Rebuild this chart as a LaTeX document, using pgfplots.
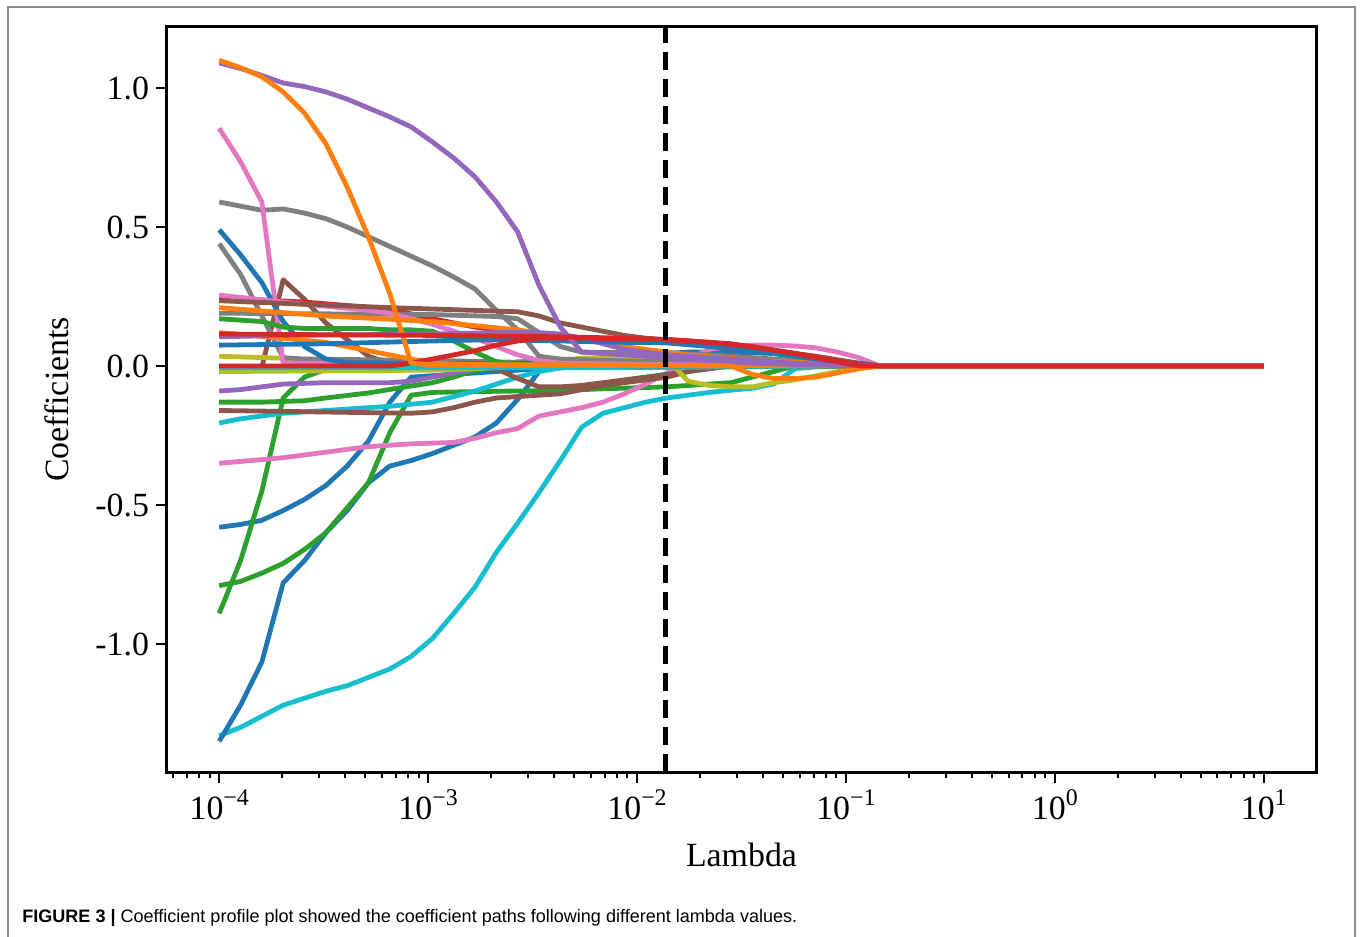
\documentclass[border=0pt]{standalone}
\usepackage{fontspec}
\setmainfont{Liberation Serif}
\newfontfamily\capfont{Liberation Sans}
\usepackage{pgfplots}
\pgfplotsset{compat=1.18}
\definecolor{tb}{HTML}{1F77B4}
\definecolor{to}{HTML}{FF7F0E}
\definecolor{tg}{HTML}{2CA02C}
\definecolor{tr}{HTML}{D62728}
\definecolor{tp}{HTML}{9467BD}
\definecolor{tbr}{HTML}{8C564B}
\definecolor{tpk}{HTML}{E377C2}
\definecolor{tgy}{HTML}{7F7F7F}
\definecolor{tol}{HTML}{BCBD22}
\definecolor{tc}{HTML}{17BECF}
\newcommand{\sx}[1]{10\raisebox{7bp}{\fontsize{12}{12}\selectfont #1}}
\begin{document}
\begin{tikzpicture}
\path[use as bounding box] (-83.5bp,-82.5bp) rectangle (596.5bp,386bp);
\draw[color=black!45, line width=0.8bp] (-79.5bp,-110bp) -- (-79.5bp,382.5bp) -- (594bp,382.5bp) -- (594bp,-110bp);
\node[anchor=base west, inner sep=0pt, font=\capfont\fontsize{9.05}{11}\selectfont] at (-72.5bp,-75bp) {\textbf{FIGURE 3 |} Coefficient profile plot showed the coefficient paths following different lambda values.};
\begin{axis}[
  at={(0,0)}, anchor=south west,
  scale only axis, width=574.5bp, height=372.5bp,
  xmode=log, log basis x=10,
  xmin=5.6234e-5, xmax=17.783,
  ymin=-1.4604, ymax=1.2194,
  axis line style={line width=1.5bp},
  tick align=outside,
  xtick pos=bottom, ytick pos=left,
  major tick length=5.5bp, minor tick length=3bp,
  every tick/.style={black, line width=1bp},
  xtick={1e-4,1e-3,1e-2,1e-1,1,10},
  xticklabels={\sx{−4},\sx{−3},\sx{−2},\sx{−1},\sx{0},\sx{1}},
  minor xtick={6e-5,7e-5,8e-5,9e-5,2e-4,3e-4,4e-4,5e-4,6e-4,7e-4,8e-4,9e-4,2e-3,3e-3,4e-3,5e-3,6e-3,7e-3,8e-3,9e-3,2e-2,3e-2,4e-2,5e-2,6e-2,7e-2,8e-2,9e-2,0.2,0.3,0.4,0.5,0.6,0.7,0.8,0.9,2,3,4,5,6,7,8,9},
  ytick={-1,-0.5,0,0.5,1},
  yticklabels={-1.0,-0.5,0.0,0.5,1.0},
  tick label style={font=\fontsize{17}{17}\selectfont},
  xlabel={Lambda}, ylabel={Coefficients},
  every axis x label/.style={at={(axis description cs:0.5,-0.1114)}, anchor=center, font=\fontsize{17}{17}\selectfont},
  every axis y label/.style={at={(axis description cs:-0.0957,0.5)}, rotate=90, anchor=center, font=\fontsize{17}{17}\selectfont},
  every axis plot/.append style={line width=2.4bp, line join=round, line cap=butt},
  clip=true,
]
% DD cyan
\addplot[tc] coordinates {(1e-4,-1.33) (1.2649e-4,-1.30) (1.6e-4,-1.26) (2.0238e-4,-1.22) (2.56e-4,-1.195) (3.2381e-4,-1.17) (4.096e-4,-1.15) (5.181e-4,-1.12) (6.5536e-4,-1.09) (8.2897e-4,-1.045) (1.0486e-3,-0.98) (1.3264e-3,-0.89) (1.6777e-3,-0.795) (2.1222e-3,-0.67) (2.6844e-3,-0.565) (3.3955e-3,-0.455) (4.295e-3,-0.34) (5.4329e-3,-0.22) (6.8719e-3,-0.17) (8.6925e-3,-0.15) (1.0995e-2,-0.13) (1.3907e-2,-0.115) (1.7592e-2,-0.105) (2.2251e-2,-0.095) (2.8147e-2,-0.087) (3.5603e-2,-0.08) (4.5036e-2,-0.065) (5.6964e-2,-0.01) (7.2058e-2,-0.003) (1.4584e-1,0) (10,0)};
% CC blue
\addplot[tb] coordinates {(1e-4,-1.35) (1.2649e-4,-1.22) (1.6e-4,-1.065) (2.0238e-4,-0.78) (2.56e-4,-0.70) (3.2381e-4,-0.60) (4.096e-4,-0.52) (5.181e-4,-0.42) (6.5536e-4,-0.36) (8.2897e-4,-0.34) (1.0486e-3,-0.315) (1.3264e-3,-0.285) (1.6777e-3,-0.255) (2.1222e-3,-0.205) (2.6844e-3,-0.12) (3.3955e-3,-0.02) (4.295e-3,0.01) (5.4329e-3,0.015) (6.8719e-3,0.02) (8.6925e-3,0.025) (1.0995e-2,0.035) (1.3907e-2,0.045) (1.7592e-2,0.05) (2.8147e-2,0.05) (4.5036e-2,0.045) (5.6964e-2,0.035) (7.2058e-2,0.025) (9.1146e-2,0.015) (1.1529e-1,0.005) (1.4584e-1,0) (10,0)};
% AA blue
\addplot[tb] coordinates {(1e-4,-0.58) (1.2649e-4,-0.57) (1.6e-4,-0.555) (2.0238e-4,-0.52) (2.56e-4,-0.48) (3.2381e-4,-0.43) (4.096e-4,-0.36) (5.181e-4,-0.27) (6.5536e-4,-0.13) (8.2897e-4,-0.04) (1.0486e-3,-0.035) (1.6777e-3,-0.025) (2.6844e-3,-0.015) (4.295e-3,-0.005) (1.0995e-2,0.0) (10,0)};
% Y green
\addplot[tg] coordinates {(1e-4,-0.89) (1.2649e-4,-0.70) (1.6e-4,-0.45) (2.0238e-4,-0.115) (2.56e-4,-0.04) (3.2381e-4,-0.012) (4.096e-4,0.0) (10,0)};
% Z green
\addplot[tg] coordinates {(1e-4,-0.79) (1.2649e-4,-0.775) (1.6e-4,-0.745) (2.0238e-4,-0.71) (2.56e-4,-0.66) (3.2381e-4,-0.60) (4.096e-4,-0.51) (5.181e-4,-0.42) (6.5536e-4,-0.24) (8.2897e-4,-0.105) (1.0486e-3,-0.095) (1.6777e-3,-0.092) (4.295e-3,-0.088) (6.8719e-3,-0.082) (1.3907e-2,-0.075) (2.2251e-2,-0.065) (2.8147e-2,-0.06) (3.5603e-2,-0.04) (4.5036e-2,-0.02) (5.6964e-2,0.0) (10,0)};
% X green
\addplot[tg] coordinates {(1e-4,-0.13) (1.6e-4,-0.13) (2.56e-4,-0.125) (3.2381e-4,-0.115) (5.181e-4,-0.097) (8.2897e-4,-0.072) (1.0486e-3,-0.06) (1.3264e-3,-0.04) (1.6777e-3,-0.015) (2.1222e-3,-0.005) (2.6844e-3,0.0) (10,0)};
% EE cyan
\addplot[tc] coordinates {(1e-4,-0.205) (1.2649e-4,-0.19) (1.6e-4,-0.18) (2.0238e-4,-0.17) (2.56e-4,-0.165) (4.096e-4,-0.155) (6.5536e-4,-0.145) (1.0486e-3,-0.13) (1.6777e-3,-0.09) (2.1222e-3,-0.065) (2.6844e-3,-0.04) (3.3955e-3,-0.02) (4.295e-3,-0.007) (5.4329e-3,0.0) (10,0)};
% FF pink
\addplot[tpk] coordinates {(1e-4,-0.35) (2.0238e-4,-0.33) (3.2381e-4,-0.31) (5.181e-4,-0.29) (8.2897e-4,-0.28) (1.3264e-3,-0.275) (1.6777e-3,-0.26) (2.1222e-3,-0.24) (2.6844e-3,-0.225) (3.3955e-3,-0.18) (4.295e-3,-0.165) (5.4329e-3,-0.15) (6.8719e-3,-0.13) (8.6925e-3,-0.10) (1.0995e-2,-0.065) (1.3907e-2,-0.025) (1.7592e-2,0.025) (2.2251e-2,0.06) (2.8147e-2,0.07) (3.5603e-2,0.075) (4.5036e-2,0.075) (5.6964e-2,0.072) (7.2058e-2,0.065) (9.1146e-2,0.05) (1.1529e-1,0.03) (1.4584e-1,0) (10,0)};
% R brown
\addplot[tbr] coordinates {(1e-4,-0.16) (8.2897e-4,-0.17) (1.0486e-3,-0.165) (1.3264e-3,-0.15) (1.6777e-3,-0.13) (2.1222e-3,-0.115) (2.6844e-3,-0.11) (3.3955e-3,-0.105) (4.295e-3,-0.10) (5.4329e-3,-0.085) (6.8719e-3,-0.07) (8.6925e-3,-0.06) (1.0995e-2,-0.05) (1.3907e-2,-0.04) (1.7592e-2,-0.02) (2.2251e-2,-0.005) (2.8147e-2,0.0) (10,0)};
% Q brown
\addplot[tbr] coordinates {(1e-4,-0.004) (1.6e-4,-0.004) (2.0238e-4,0.31) (2.56e-4,0.24) (3.2381e-4,0.155) (4.096e-4,0.095) (5.181e-4,0.035) (6.5536e-4,0.01) (8.2897e-4,0.0) (1.6777e-3,0.0) (2.1222e-3,-0.01) (2.6844e-3,-0.045) (3.3955e-3,-0.075) (4.295e-3,-0.075) (5.4329e-3,-0.07) (6.8719e-3,-0.06) (8.6925e-3,-0.05) (1.0995e-2,-0.04) (1.3907e-2,-0.03) (1.7592e-2,-0.02) (2.2251e-2,-0.01) (2.8147e-2,0.0) (10,0)};
% V purple
\addplot[tp] coordinates {(1e-4,-0.09) (1.2649e-4,-0.085) (1.6e-4,-0.075) (2.0238e-4,-0.065) (3.2381e-4,-0.06) (6.5536e-4,-0.06) (8.2897e-4,-0.055) (1.0486e-3,-0.04) (1.3264e-3,-0.025) (1.6777e-3,-0.01) (2.1222e-3,0.005) (2.6844e-3,0.015) (4.295e-3,0.02) (1.0995e-2,0.015) (4.5036e-2,0.005) (1.4584e-1,0) (10,0)};
% S olive
\addplot[tol] coordinates {(1e-4,0.035) (2.0238e-4,0.028) (2.56e-4,0.015) (8.2897e-4,0.012) (2.1222e-3,0.01) (3.3955e-3,0.005) (1.4584e-1,0) (10,0)};
% T olive
\addplot[tol] coordinates {(1e-4,-0.02) (1.0486e-3,-0.015) (1.6777e-3,-0.01) (2.6844e-3,0.0) (3.3955e-3,0.01) (4.295e-3,0.02) (5.4329e-3,0.028) (8.6925e-3,0.032) (1.3907e-2,0.025) (1.7592e-2,-0.055) (2.2251e-2,-0.07) (2.8147e-2,-0.075) (3.5603e-2,-0.075) (4.5036e-2,-0.06) (5.6964e-2,-0.05) (7.2058e-2,-0.035) (9.1146e-2,-0.02) (1.1529e-1,-0.008) (1.4584e-1,0) (10,0)};
% U cyan
\addplot[tc] coordinates {(1e-4,-0.006) (1.0995e-2,-0.006) (4.5036e-2,-0.002) (1.4584e-1,0) (10,0)};
% K red (thin, under pink)
\addplot[tr] coordinates {(1e-4,0.245) (2.56e-4,0.23) (6.5536e-4,0.205) (1.0486e-3,0.17) (1.6777e-3,0.14) (2.6844e-3,0.12) (4.295e-3,0.10) (8.6925e-3,0.09) (1.3907e-2,0.085) (2.2251e-2,0.08) (3.5603e-2,0.065) (5.6964e-2,0.045) (9.1146e-2,0.02) (1.4584e-1,0) (10,0)};
% E gray
\addplot[tgy] coordinates {(1e-4,0.44) (1.2649e-4,0.33) (1.6e-4,0.18) (2.0238e-4,0.03) (2.56e-4,0.025) (1.0486e-3,0.02) (4.295e-3,0.01) (1.0995e-2,0.005) (1.4584e-1,0) (10,0)};
% D gray
\addplot[tgy] coordinates {(1e-4,0.59) (1.2649e-4,0.575) (1.6e-4,0.56) (2.0238e-4,0.565) (2.56e-4,0.55) (3.2381e-4,0.53) (4.096e-4,0.50) (5.181e-4,0.465) (6.5536e-4,0.43) (8.2897e-4,0.395) (1.0486e-3,0.36) (1.3264e-3,0.32) (1.6777e-3,0.277) (2.1222e-3,0.20) (2.6844e-3,0.13) (3.3955e-3,0.035) (4.295e-3,0.025) (6.8719e-3,0.02) (1.3907e-2,0.015) (4.5036e-2,0.005) (1.4584e-1,0) (10,0)};
% F gray
\addplot[tgy] coordinates {(1e-4,0.19) (1.0486e-3,0.185) (2.1222e-3,0.178) (2.6844e-3,0.17) (3.3955e-3,0.12) (4.295e-3,0.07) (5.4329e-3,0.05) (1.3907e-2,0.047) (2.2251e-2,0.04) (3.5603e-2,0.03) (5.6964e-2,0.02) (9.1146e-2,0.01) (1.4584e-1,0) (10,0)};
% C pink
\addplot[tpk] coordinates {(1e-4,0.855) (1.2649e-4,0.735) (1.6e-4,0.59) (2.0238e-4,0.01) (1.0486e-3,0.01) (3.3955e-3,0.008) (1.0995e-2,0.005) (4.5036e-2,0.002) (1.4584e-1,0) (10,0)};
% G blue
\addplot[tb] coordinates {(1e-4,0.49) (1.2649e-4,0.40) (1.6e-4,0.30) (2.0238e-4,0.16) (2.56e-4,0.07) (3.2381e-4,0.025) (4.096e-4,0.012) (1.0486e-3,0.01) (4.295e-3,0.008) (1.3907e-2,0.005) (1.4584e-1,0) (10,0)};
% H pink
\addplot[tpk] coordinates {(1e-4,0.255) (2.0238e-4,0.23) (3.2381e-4,0.215) (5.181e-4,0.2) (6.5536e-4,0.19) (8.2897e-4,0.17) (1.0486e-3,0.15) (1.3264e-3,0.125) (1.6777e-3,0.10) (2.1222e-3,0.07) (2.6844e-3,0.04) (3.3955e-3,0.02) (4.295e-3,0.01) (1.3907e-2,0.005) (1.4584e-1,0) (10,0)};
% J brown
\addplot[tbr] coordinates {(1e-4,0.235) (2.56e-4,0.222) (6.5536e-4,0.21) (1.6777e-3,0.20) (2.6844e-3,0.195) (3.3955e-3,0.18) (4.295e-3,0.155) (5.4329e-3,0.14) (6.8719e-3,0.125) (8.6925e-3,0.11) (1.0995e-2,0.10) (1.3907e-2,0.094) (1.7592e-2,0.09) (2.8147e-2,0.075) (4.5036e-2,0.055) (7.2058e-2,0.035) (1.1529e-1,0.01) (1.4584e-1,0) (10,0)};
% N green
\addplot[tg] coordinates {(1e-4,0.17) (1.2649e-4,0.165) (1.6e-4,0.16) (2.0238e-4,0.14) (2.56e-4,0.135) (5.181e-4,0.135) (6.5536e-4,0.13) (8.2897e-4,0.13) (1.0486e-3,0.125) (1.3264e-3,0.09) (1.6777e-3,0.05) (2.1222e-3,0.015) (2.6844e-3,0.005) (1.0995e-2,0.0) (10,0)};
% O orange
\addplot[to] coordinates {(1e-4,0.21) (3.2381e-4,0.18) (1.0486e-3,0.16) (2.6844e-3,0.13) (5.4329e-3,0.095) (8.6925e-3,0.07) (1.7592e-2,0.04) (3.5603e-2,0.02) (7.2058e-2,0.01) (1.4584e-1,0) (10,0)};
% P orange
\addplot[to] coordinates {(1e-4,0.12) (2.0238e-4,0.10) (3.2381e-4,0.085) (5.181e-4,0.055) (6.5536e-4,0.04) (8.2897e-4,0.025) (1.0486e-3,0.01) (1.6777e-3,0.005) (1.4584e-1,0) (10,0)};
% W purple
\addplot[tp] coordinates {(1e-4,0.105) (2.0238e-4,0.11) (1.0486e-3,0.115) (2.1222e-3,0.12) (3.3955e-3,0.12) (4.295e-3,0.115) (5.4329e-3,0.10) (6.8719e-3,0.08) (8.6925e-3,0.06) (1.3907e-2,0.04) (2.2251e-2,0.03) (3.5603e-2,0.02) (5.6964e-2,0.01) (1.4584e-1,0) (10,0)};
% BB blue
\addplot[tb] coordinates {(1e-4,0.075) (3.2381e-4,0.08) (1.0486e-3,0.09) (2.1222e-3,0.095) (4.295e-3,0.09) (8.6925e-3,0.085) (1.3907e-2,0.083) (2.2251e-2,0.07) (3.5603e-2,0.055) (5.6964e-2,0.035) (9.1146e-2,0.015) (1.4584e-1,0) (10,0)};
% M red
\addplot[tr] coordinates {(1e-4,0.0) (6.5536e-4,0.0) (8.2897e-4,0.01) (1.0486e-3,0.025) (1.3264e-3,0.04) (1.6777e-3,0.055) (2.1222e-3,0.075) (2.6844e-3,0.09) (3.3955e-3,0.10) (5.4329e-3,0.10) (1.3907e-2,0.095) (2.8147e-2,0.08) (5.6964e-2,0.045) (1.1529e-1,0.005) (1.4584e-1,0) (10,0)};
% A purple
\addplot[tp] coordinates {(1e-4,1.09) (1.2649e-4,1.07) (1.6e-4,1.045) (2.0238e-4,1.018) (2.56e-4,1.005) (3.2381e-4,0.986) (4.096e-4,0.96) (5.181e-4,0.928) (6.5536e-4,0.896) (8.2897e-4,0.86) (1.0486e-3,0.806) (1.3264e-3,0.748) (1.6777e-3,0.68) (2.1222e-3,0.59) (2.6844e-3,0.482) (3.3955e-3,0.29) (4.295e-3,0.14) (5.4329e-3,0.05) (6.8719e-3,0.045) (8.6925e-3,0.04) (1.0995e-2,0.035) (1.3907e-2,0.03) (1.7592e-2,0.025) (2.2251e-2,0.02) (2.8147e-2,0.015) (3.5603e-2,0.01) (4.5036e-2,0.008) (5.6964e-2,0.005) (7.2058e-2,0.003) (1.4584e-1,0) (10,0)};
% B orange
\addplot[to] coordinates {(1e-4,1.10) (1.2649e-4,1.073) (1.6e-4,1.04) (2.0238e-4,0.986) (2.56e-4,0.91) (3.2381e-4,0.80) (4.096e-4,0.644) (5.181e-4,0.464) (6.5536e-4,0.26) (8.2897e-4,0.01) (1.0486e-3,0.004) (2.6844e-3,0.003) (2.8147e-2,0.0) (3.5603e-2,-0.03) (4.5036e-2,-0.045) (5.6964e-2,-0.045) (7.2058e-2,-0.04) (9.1146e-2,-0.025) (1.1529e-1,-0.01) (1.4584e-1,0) (10,0)};
% L red (top)
\addplot[tr] coordinates {(1e-4,0.115) (1.0486e-3,0.11) (4.295e-3,0.105) (8.6925e-3,0.10) (1.3907e-2,0.095) (2.2251e-2,0.085) (3.5603e-2,0.07) (5.6964e-2,0.045) (7.2058e-2,0.03) (9.1146e-2,0.015) (1.1529e-1,0.0) (10,0)};
% optimal lambda
\addplot[black, line width=2.5bp, dash pattern=on 9bp off 4.5bp] coordinates {(0.01365,-1.4604) (0.01365,1.2194)};
\end{axis}
\end{tikzpicture}
\end{document}
